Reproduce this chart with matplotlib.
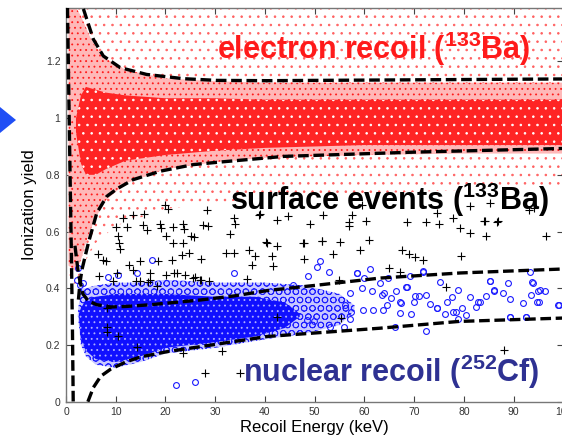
import numpy as np
import matplotlib
matplotlib.use('Agg')
import matplotlib.pyplot as plt
from matplotlib.patches import Polygon

# ---- electron recoil cloud (133Ba), outlines of density levels
er_sparse_E = [0.5, 2, 4, 6, 10, 20, 40, 70, 100]
er_sparse_lo = [0.40, 0.42, 0.50, 0.56, 0.62, 0.68, 0.72, 0.74, 0.76]
er_sparse_hi = [1.39, 1.39, 1.39, 1.39, 1.39, 1.39, 1.39, 1.39, 1.39]

er_mid_E = [0.5, 2, 3, 4, 5, 6, 8, 12, 20, 30, 40, 60, 80, 100]
er_mid_lo = [0.48, 0.46, 0.50, 0.56, 0.61, 0.65, 0.71, 0.77, 0.82, 0.845, 0.86, 0.87, 0.875, 0.875]
er_mid_hi = [1.39, 1.39, 1.36, 1.32, 1.28, 1.25, 1.21, 1.17, 1.14, 1.13, 1.125, 1.125, 1.125, 1.125]

er_core_E = [2.0, 3, 4, 6, 8, 12, 20, 30, 40, 60, 80, 100]
er_core_lo = [0.95, 0.84, 0.80, 0.80, 0.82, 0.85, 0.87, 0.885, 0.895, 0.905, 0.905, 0.905]
er_core_hi = [1.00, 1.08, 1.11, 1.10, 1.09, 1.08, 1.07, 1.07, 1.065, 1.065, 1.065, 1.065]

# ---- nuclear recoil cloud (252Cf)
nr_mid_E = [2.4, 3, 4, 6, 10, 15, 20, 30, 40, 48, 55, 58]
nr_mid_lo = [0.30, 0.20, 0.16, 0.13, 0.12, 0.14, 0.17, 0.19, 0.22, 0.24, 0.27, 0.32]
nr_mid_hi = [0.32, 0.40, 0.40, 0.41, 0.42, 0.42, 0.43, 0.42, 0.42, 0.41, 0.38, 0.34]

nr_core_E = [2.6, 3, 4, 6, 10, 15, 20, 30, 38, 44, 47]
nr_core_lo = [0.30, 0.22, 0.18, 0.15, 0.14, 0.16, 0.19, 0.21, 0.23, 0.26, 0.30]
nr_core_hi = [0.31, 0.33, 0.36, 0.37, 0.38, 0.38, 0.38, 0.37, 0.37, 0.35, 0.31]

# individual neutron events outside the dense part
nr_E = [58.5, 60.0, 64.8, 69.2, 71.7, 75.2, 78.9, 85.3, 86.1, 87.8, 93.3, 93.7, 93.5, 95.2,
        94.7, 91.8, 89.3, 84.4, 82.8, 81.3, 82.5, 80.5, 78.5, 76.2, 74.6, 73.2, 72.4, 70.9,
        69.3, 67.2, 67.4, 65.4, 63.8, 61.8, 59.8, 57.3, 89.2, 92.5, 72.4, 55.8, 99.0, 63.2,
        68.5, 70.2, 77.6, 76.6, 59.5, 61.5, 63.5, 79.6, 51.0, 50.4, 52.8, 58.6, 61.2, 71.8,
        48.7, 45.7, 57.0, 63.9, 66.4, 68.4, 85.2, 88.8, 93.8, 94.9, 96.4, 95.0, 99.1, 89.2,
        92.4, 78.8, 66.2, 53.1, 57.1, 48.4, 49.8, 74.6, 77.9, 83.3, 86.0, 69.9, 67.2, 64.5,
        56.1, 22.1, 26.0, 33.7, 17.2, 14.2, 10.5, 8.5, 2.4, 2.2, 2.8, 3.4]
nr_y = [0.454, 0.436, 0.436, 0.444, 0.462, 0.422, 0.395, 0.426, 0.395, 0.385, 0.456, 0.422, 0.375, 0.395,
        0.353, 0.348, 0.363, 0.373, 0.350, 0.369, 0.333, 0.306, 0.315, 0.310, 0.330, 0.345, 0.377, 0.371,
        0.310, 0.312, 0.348, 0.365, 0.324, 0.324, 0.324, 0.315, 0.300, 0.300, 0.250, 0.265, 0.342, 0.418,
        0.406, 0.373, 0.369, 0.353, 0.400, 0.389, 0.377, 0.330, 0.495, 0.475, 0.459, 0.453, 0.468, 0.459,
        0.444, 0.412, 0.383, 0.383, 0.389, 0.406, 0.424, 0.420, 0.418, 0.392, 0.389, 0.353, 0.342, 0.297,
        0.297, 0.291, 0.263, 0.265, 0.291, 0.289, 0.283, 0.330, 0.318, 0.353, 0.392, 0.353, 0.353, 0.342,
        0.342, 0.060, 0.068, 0.455, 0.500, 0.455, 0.445, 0.440, 0.470, 0.430, 0.410, 0.420]

# ---- surface events (133Ba)
se_E = [10.1, 12.2, 15.5, 16.2, 18.8, 19.1, 21.6, 23.5, 23.8, 25.1, 25.8, 27.6, 28.6, 33.0,
        34.0, 10.5, 10.7, 10.9, 20.1, 21.6, 23.5, 24.7, 23.3, 6.4, 6.7, 8.0, 9.5, 10.2,
        12.7, 13.5, 14.9, 14.1, 16.9, 18.4, 20.1, 21.3, 21.7, 23.9, 25.6, 26.9, 27.2, 28.8,
        32.1, 33.7, 36.7, 38.0, 37.4, 40.2, 41.4, 41.7, 8.2, 8.3, 8.3, 10.5, 14.2, 23.6,
        28.0, 31.3, 34.9, 49.1, 56.8, 56.8, 60.4, 68.5, 72.4, 74.9, 79.3, 81.3, 84.1, 86.7,
        84.5, 96.5, 47.8, 51.4, 55.1, 61.0, 53.7, 59.2, 47.8, 67.5, 68.9, 70.2, 71.8, 79.5,
        65.0, 67.1, 54.9, 76.4, 55.3, 88.1, 59.5, 85.3, 93.0, 94.1, 81.3, 57.5, 74.6, 86.8,
        84.3, 77.9, 19.9, 20.6, 28.4, 11.5, 13.5, 15.6, 33.7, 39.0, 44.7, 51.6, 38.9, 42.4,
        40.4, 47.6, 51.4, 42.5, 16.8, 22.3, 26.0, 27.1, 36.4, 42.4, 7.5, 14.9, 16.4, 18.2]
se_y = [0.616, 0.616, 0.624, 0.604, 0.626, 0.614, 0.616, 0.626, 0.609, 0.585, 0.581, 0.623, 0.618, 0.593,
        0.626, 0.583, 0.560, 0.538, 0.585, 0.560, 0.560, 0.524, 0.518, 0.521, 0.442, 0.495, 0.424, 0.454,
        0.483, 0.465, 0.495, 0.426, 0.454, 0.495, 0.448, 0.498, 0.454, 0.448, 0.436, 0.430, 0.503, 0.424,
        0.524, 0.524, 0.534, 0.512, 0.483, 0.564, 0.512, 0.479, 0.330, 0.263, 0.247, 0.232, 0.194, 0.171,
        0.100, 0.180, 0.100, 0.628, 0.633, 0.621, 0.636, 0.633, 0.633, 0.628, 0.613, 0.595, 0.636, 0.633,
        0.585, 0.585, 0.560, 0.565, 0.562, 0.569, 0.521, 0.536, 0.503, 0.536, 0.521, 0.510, 0.501, 0.512,
        0.471, 0.456, 0.430, 0.406, 0.295, 0.183, 0.695, 0.701, 0.677, 0.683, 0.689, 0.660, 0.666, 0.636,
        0.636, 0.648, 0.695, 0.680, 0.677, 0.648, 0.657, 0.661, 0.648, 0.661, 0.656, 0.660, 0.660, 0.642,
        0.560, 0.560, 0.566, 0.548, 0.430, 0.454, 0.440, 0.430, 0.433, 0.298, 0.499, 0.424, 0.421, 0.407]

# ---- acceptance band edges (dashed)
thr_E = [0.3, 0.55, 0.8, 1.1, 1.3, 1.45]
thr_y = [1.39, 1.10, 0.82, 0.50, 0.25, 0.0]

er_up_E = [3.5, 5.5, 7.5, 10.9, 16.2, 23.6, 30.3, 40.5, 60, 80, 100]
er_up_y = [1.385, 1.278, 1.219, 1.178, 1.154, 1.139, 1.133, 1.132, 1.134, 1.136, 1.138]

er_lo_E = [2.5, 2.8, 3.2, 4.5, 6.2, 8.2, 10.2, 13.5, 19.0, 25.6, 30.3, 43.8, 70, 100]
er_lo_y = [0.36, 0.418, 0.465, 0.560, 0.666, 0.724, 0.750, 0.783, 0.813, 0.836, 0.844, 0.865, 0.880, 0.893]

nr_up_E = [1.8, 2.5, 3.4, 4.5, 6.2, 9.0, 12.2, 17.0, 27.2, 33.8, 40.5, 50, 63.2, 79.3, 100]
nr_up_y = [0.55, 0.45, 0.38, 0.355, 0.342, 0.334, 0.336, 0.342, 0.359, 0.373, 0.392, 0.41, 0.436, 0.454, 0.468]

nr_lo_E = [4.4, 5.5, 7.0, 9.0, 12.0, 15.0, 20.5, 27.0, 40.5, 63.0, 79.0, 100]
nr_lo_y = [0.0, 0.05, 0.09, 0.115, 0.14, 0.158, 0.177, 0.194, 0.23, 0.259, 0.283, 0.295]

x_ticks = [0, 10, 20, 30, 40, 50, 60, 70, 80, 90, 100]
y_ticks = [0, 0.2, 0.4, 0.6, 0.8, 1.0, 1.2]
y_ticklabels = ['0', '0.2', '0.4', '0.6', '0.8', '1', '1.2']

plt.rcParams['font.family'] = ['Liberation Sans', 'DejaVu Sans']
plt.rcParams['mathtext.fontset'] = 'custom'
plt.rcParams['mathtext.rm'] = 'Liberation Sans:bold'
plt.rcParams['mathtext.default'] = 'rm'
plt.rcParams['hatch.linewidth'] = 0.6

W, H = 562, 443
fig = plt.figure(figsize=(W / 100, H / 100), dpi=100)
ax = fig.add_axes([66 / W, 41.3 / H, (563.4 - 66) / W, (435.5 - 41.3) / H])

# electron recoil cloud
ax.fill_between(er_sparse_E, er_sparse_lo, er_sparse_hi, facecolor='none',
                edgecolor='#ff6060', hatch='..', linewidth=0, zorder=1)
ax.fill_between(er_mid_E, er_mid_lo, er_mid_hi, facecolor='#ffb8b8',
                edgecolor='#ff1a1a', hatch='...', linewidth=0, zorder=2)
ax.fill_between(er_core_E, er_core_lo, er_core_hi, facecolor='#ff2424',
                edgecolor='white', hatch='..', linewidth=0, zorder=3)

# nuclear recoil cloud
ax.fill_between(nr_mid_E, nr_mid_lo, nr_mid_hi, facecolor='#c8c8ff',
                edgecolor='#2020ff', hatch='OO', linewidth=0, zorder=4)
ax.fill_between(nr_core_E, nr_core_lo, nr_core_hi, facecolor='#1010ff',
                edgecolor='#b0b0ff', hatch='...', linewidth=0, zorder=5)
ax.plot(nr_E, nr_y, 'o', ms=4.2, mfc='none', mec='#1a1aff', mew=0.8, zorder=6)

# surface events
ax.plot(se_E, se_y, '+', ms=6, color='black', mew=0.8, zorder=7)

# band edges
dash_kw = dict(color='black', linewidth=2.4, dashes=(3.2, 1.4), zorder=8)
ax.plot(thr_E, thr_y, **dash_kw)
ax.plot(er_up_E, er_up_y, **dash_kw)
ax.plot(er_lo_E, er_lo_y, **dash_kw)
ax.plot(nr_up_E, nr_up_y, **dash_kw)
ax.plot(nr_lo_E, nr_lo_y, **dash_kw)

# labels inside the plot
ax.text(30.4, 1.207, r'electron recoil ($^{133}$Ba)', color='#ff1a1a', fontsize=22,
        fontweight='bold', ha='left', va='baseline', zorder=9)
ax.text(33.0, 0.677, r'surface events ($^{133}$Ba)', color='black', fontsize=22,
        fontweight='bold', ha='left', va='baseline', zorder=9)
ax.text(35.6, 0.071, r'nuclear recoil ($^{252}$Cf)', color='#2e3192', fontsize=22,
        fontweight='bold', ha='left', va='baseline', zorder=9)

ax.set_xlim(0, 100)
ax.set_ylim(0, 1.39)
ax.set_xticks(x_ticks)
ax.set_xticklabels([str(v) for v in x_ticks])
ax.set_yticks(y_ticks)
ax.set_yticklabels(y_ticklabels)
ax.tick_params(direction='in', top=True, right=True, length=4, width=0.8,
               labelsize=7.5, labelcolor='#333333', color='#444444', pad=4)
for s in ax.spines.values():
    s.set_color('#777777')
    s.set_linewidth(1.0)
ax.set_xlabel('Recoil Energy (keV)', fontsize=12, labelpad=2)
ax.set_ylabel('Ionization yield', fontsize=12, labelpad=6)

# arrow head from the slide on the left
tri = [[0, 107], [16, 120], [0, 133]]
fig.patches.append(Polygon([[x / W, 1 - y / H] for x, y in tri], closed=True,
                           transform=fig.transFigure, facecolor='#1f4ef5',
                           edgecolor='none'))

fig.savefig('out.png', dpi=100)
